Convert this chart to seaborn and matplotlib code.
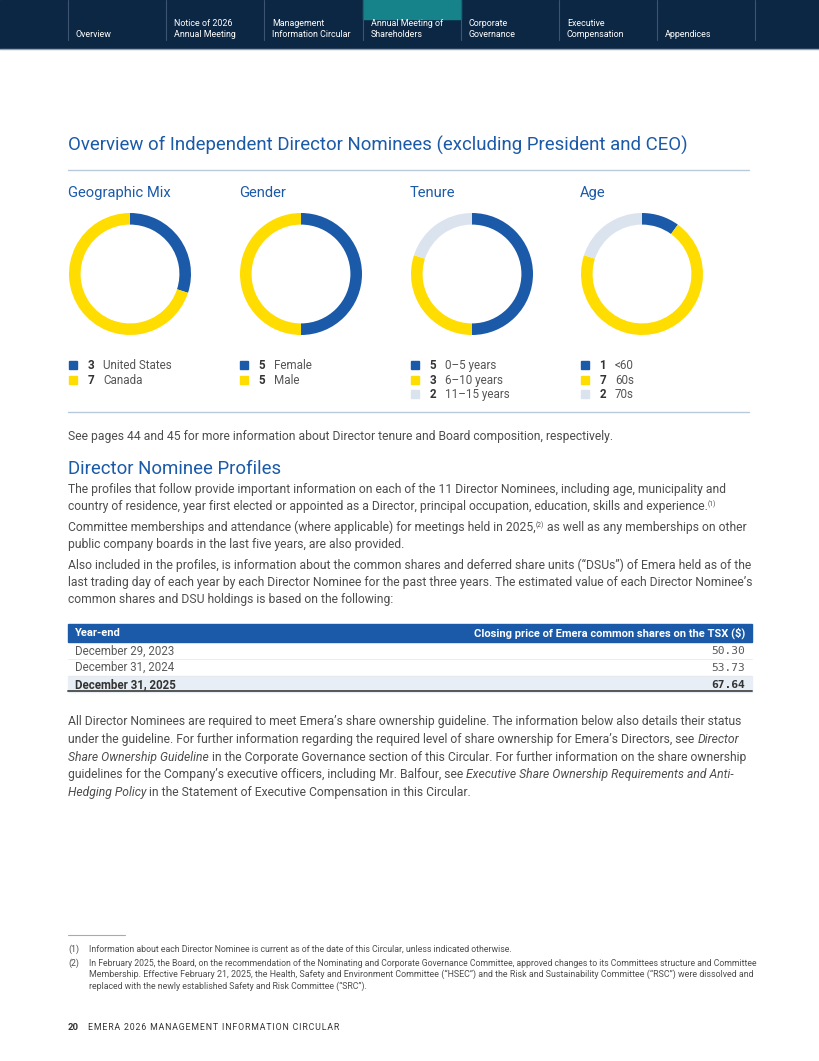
import matplotlib
matplotlib.use("Agg")
import matplotlib.pyplot as plt
from matplotlib.patches import Rectangle
import seaborn as sns

# ---- data ----
nav_tabs = ["Overview", "Notice of 2026\nAnnual Meeting", "Management\nInformation Circular",
            "Annual Meeting of\nShareholders", "Corporate\nGovernance", "Executive\nCompensation",
            "Appendices"]
active_tab = 3

chart_titles = ["Geographic Mix", "Gender", "Tenure", "Age"]
geo_labels = ["United States", "Canada"]
geo_counts = [3, 7]
gender_labels = ["Female", "Male"]
gender_counts = [5, 5]
tenure_labels = ["0–5 years", "6–10 years", "11–15 years"]
tenure_counts = [5, 3, 2]
age_labels = ["<60", "60s", "70s"]
age_counts = [1, 7, 2]

year_end = ["December 29, 2023", "December 31, 2024", "December 31, 2025"]
closing_price = [50.30, 53.73, 67.64]

# ---- style ----
sns.set_theme(style="white")
plt.rcParams['font.family'] = ['Roboto', 'DejaVu Sans']
palette = ["#1b5aa8", "#ffdd00", "#dbe4ee"]
NAVY = "#0c2744"
TEAL = "#16838b"
BLUE = "#1b5aa8"
TEXT = "#4d4d4d"
RULE = "#b9c9dc"
BODY = 8.7

fig = plt.figure(figsize=(8.2, 10.61), dpi=100)
bg = fig.add_axes([0, 0, 1, 1])
bg.set_xlim(0, 820)
bg.set_ylim(1061, 0)
bg.axis('off')
renderer = fig.canvas.get_renderer()


def rich(x, y, parts, size=BODY, color=TEXT):
    # draw a line made of pieces with different styles, one after the other
    for txt, style in parts:
        kw = dict(fontsize=size, color=color, va='baseline', ha='left')
        if style == 'i':
            kw['fontstyle'] = 'italic'
        elif style == 'b':
            kw['fontweight'] = 'bold'
        elif style == 'sup':
            kw['fontsize'] = size * 0.55
            t = bg.text(x, y - 4, txt, **kw)
            x += t.get_window_extent(renderer).width
            continue
        t = bg.text(x, y, txt, **kw)
        x += t.get_window_extent(renderer).width
    return x


# ---- header bar ----
bg.add_patch(Rectangle((0, 0), 820, 48, color=NAVY, zorder=0))
bg.plot([0, 820], [48.5, 48.5], color="#9aa3ad", lw=1)
seps = [68 + 98.2 * i for i in range(8)]
for s in seps:
    bg.plot([s, s], [0, 40], color="#3c5470", lw=0.8)
bg.add_patch(Rectangle((seps[active_tab], 0), seps[active_tab + 1] - seps[active_tab], 19,
                       color=TEAL, zorder=1))
for i, tab in enumerate(nav_tabs):
    bg.text(seps[i] + 8, 37, tab, color="white", fontsize=6.4, va='baseline',
            ha='left', linespacing=1.25)

# ---- overview section ----
bg.text(68, 151, "Overview of Independent Director Nominees (excluding President and CEO)",
        color=BLUE, fontsize=13.4, va='baseline')
bg.plot([68, 749], [169.5, 169.5], color=RULE, lw=1)

charts = [(geo_labels, geo_counts), (gender_labels, gender_counts),
          (tenure_labels, tenure_counts), (age_labels, age_counts)]
col_x = [68, 239, 410, 580]
R = 61
for i, (labels, counts) in enumerate(charts):
    x0 = col_x[i]
    bg.text(x0, 197, chart_titles[i], color=BLUE, fontsize=10.6, va='baseline')
    cx, cy = x0 + 62, 274
    ax = fig.add_axes([(cx - R) / 820, 1 - (cy + R) / 1061, 2 * R / 820, 2 * R / 1061])
    ax.pie(counts, colors=palette[:len(counts)], startangle=90, counterclock=False,
           wedgeprops=dict(width=0.19, linewidth=0))
    ax.set_xlim(-1, 1)
    ax.set_ylim(-1, 1)
    ax.axis('off')
    # legend
    for j, (lab, n) in enumerate(zip(labels, counts)):
        yb = 369 + j * 14.6
        bg.add_patch(Rectangle((x0 + 1, yb - 8), 8, 8, color=palette[j]))
        bg.text(x0 + 26, yb, str(n), color="#333333", fontsize=8.4, fontweight='bold',
                va='baseline', ha='right')
        bg.text(x0 + 35, yb, lab, color="#555555", fontsize=8.4, va='baseline')

bg.plot([68, 749], [411.5, 411.5], color=RULE, lw=1)
rich(68, 440, [("See pages 44 and 45 for more information about Director tenure and Board composition, respectively.", 'n')])

# ---- profiles ----
bg.text(68, 474, "Director Nominee Profiles", color=BLUE, fontsize=13.4, va='baseline')
lines = [
    (493, [("The profiles that follow provide important information on each of the 11 Director Nominees, including age, municipality and", 'n')]),
    (510, [("country of residence, year first elected or appointed as a Director, principal occupation, education, skills and experience.", 'n'), ("(1)", 'sup')]),
    (531, [("Committee memberships and attendance (where applicable) for meetings held in 2025,", 'n'), ("(2)", 'sup'), (" as well as any memberships on other", 'n')]),
    (548, [("public company boards in the last five years, are also provided.", 'n')]),
    (569, [("Also included in the profiles, is information about the common shares and deferred share units (\u201cDSUs\u201d) of Emera held as of the", 'n')]),
    (586, [("last trading day of each year by each Director Nominee for the past three years. The estimated value of each Director Nominee\u2019s", 'n')]),
    (603, [("common shares and DSU holdings is based on the following:", 'n')]),
]
for y, parts in lines:
    rich(68, y, parts)

# ---- table ----
bg.add_patch(Rectangle((68, 624), 684, 18, color=BLUE))
bg.text(75, 636.5, "Year-end", color="white", fontsize=8, fontweight='bold', va='baseline')
bg.text(745, 636.5, "Closing price of Emera common shares on the TSX ($)", color="white",
        fontsize=8, fontweight='bold', va='baseline', ha='right')
row_top = 642
for k, (d, p) in enumerate(zip(year_end, closing_price)):
    top = row_top + k * 16.8
    last = k == len(year_end) - 1
    if last:
        bg.add_patch(Rectangle((68, top), 684, 16.8, color="#e8eef5"))
    else:
        bg.plot([68, 752], [top + 16.8, top + 16.8], color="#e6eaef", lw=0.6)
    w = 'bold' if last else 'normal'
    c = "#333333" if last else "#5a5a5a"
    bg.text(75, top + 12.3, d, color=c, fontsize=8.3, fontweight=w, va='baseline')
    bg.text(745, top + 12.3, f"{p:.2f}", color=c, fontsize=8.1, fontweight=w,
            va='baseline', ha='right', family='DejaVu Sans Mono')
bg.plot([68, 752], [691, 691], color="#555555", lw=1.4)

# ---- ownership paragraph ----
para = [
    (725, [("All Director Nominees are required to meet Emera\u2019s share ownership guideline. The information below also details their status", 'n')]),
    (743, [("under the guideline. For further information regarding the required level of share ownership for Emera\u2019s Directors, see ", 'n'), ("Director", 'i')]),
    (761, [("Share Ownership Guideline", 'i'), (" in the Corporate Governance section of this Circular. For further information on the share ownership", 'n')]),
    (778, [("guidelines for the Company\u2019s executive officers, including Mr. Balfour, see ", 'n'), ("Executive Share Ownership Requirements and Anti-", 'i')]),
    (796, [("Hedging Policy", 'i'), (" in the Statement of Executive Compensation in this Circular.", 'n')]),
]
for y, parts in para:
    rich(68, y, parts)

# ---- footnotes ----
bg.plot([68, 125], [935, 935], color="#aaaaaa", lw=0.8)
fn_size = 6.3
bg.text(68, 952, "(1)", color=TEXT, fontsize=fn_size, va='baseline')
bg.text(89, 952, "Information about each Director Nominee is current as of the date of this Circular, unless indicated otherwise.",
        color=TEXT, fontsize=fn_size, va='baseline')
bg.text(68, 966, "(2)", color=TEXT, fontsize=fn_size, va='baseline')
fn2 = ["In February 2025, the Board, on the recommendation of the Nominating and Corporate Governance Committee, approved changes to its Committees structure and Committee",
       "Membership. Effective February 21, 2025, the Health, Safety and Environment Committee (\u201cHSEC\u201d) and the Risk and Sustainability Committee (\u201cRSC\u201d) were dissolved and",
       "replaced with the newly established Safety and Risk Committee (\u201cSRC\u201d)."]
fn2_sizes = [6.2, 6.4, 6.3]
for k, ln in enumerate(fn2):
    bg.text(89, 966 + k * 11.3, ln, color=TEXT, fontsize=fn2_sizes[k], va='baseline')

# ---- footer ----
bg.text(68, 1030, "20", color="#333333", fontsize=6.8, fontweight='bold', va='baseline')
bg.text(88, 1030, "EMERA 2026 MANAGEMENT INFORMATION CIRCULAR".replace("", "\u200a").strip(),
        color="#333333", fontsize=6.3, va='baseline')

fig.savefig("out.png", dpi=100)
